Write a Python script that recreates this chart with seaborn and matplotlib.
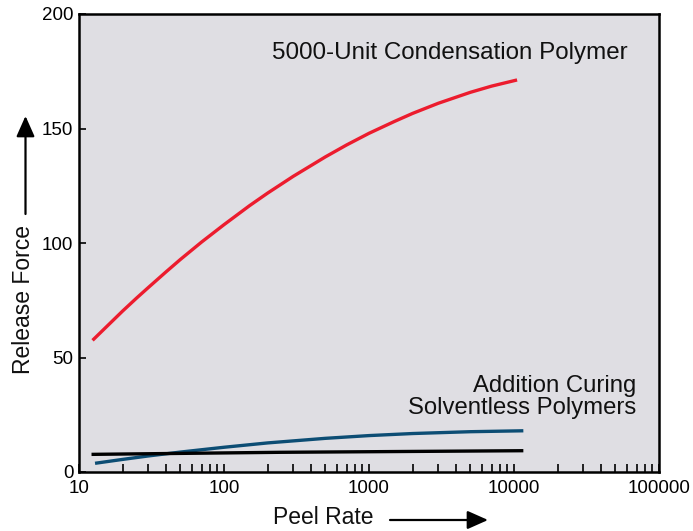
import matplotlib
matplotlib.use("Agg")
import matplotlib.pyplot as plt
from matplotlib.patches import FancyArrowPatch
from matplotlib.ticker import LogLocator, NullFormatter, FixedLocator, FixedFormatter
import seaborn as sns
import pandas as pd

# Release force versus peel rate for three release coatings
condensation_rate = [12.4, 15, 20, 25, 30, 40, 50, 70, 100, 150, 200, 300, 500,
                     700, 1000, 1500, 2000, 3000, 5000, 7000, 10500]
condensation_force = [57.5, 62.6, 70.3, 76.0, 80.5, 87.5, 92.8, 100.4, 108.0, 116.3,
                      121.8, 129.1, 137.6, 142.8, 147.9, 153.1, 156.6, 161.0, 165.8,
                      168.5, 171.2]

addition_blue_rate = [12.9, 20, 30, 50, 100, 200, 500, 1000, 2000, 5000, 11600]
addition_blue_force = [3.8, 5.5, 7.0, 8.7, 10.8, 12.7, 14.7, 15.9, 16.8, 17.6, 18.0]

addition_black_rate = [12.2, 243, 11600]
addition_black_force = [7.7, 8.6, 9.3]

x_ticks = [10, 100, 1000, 10000, 100000]
x_tick_labels = ["10", "100", "1000", "10000", "100000"]
y_ticks = [0, 50, 100, 150, 200]
y_tick_labels = ["0", "50", "100", "150", "200"]

sns.set_theme(style="white")
plt.rcParams["font.family"] = ["Liberation Sans", "DejaVu Sans"]

fig = plt.figure(figsize=(6.93, 5.31), dpi=100)
ax = fig.add_axes([79 / 693, 1 - 472 / 531, (659 - 79) / 693, (472 - 14) / 531])
ax.set_facecolor("#dfdee3")

series = [
    (condensation_rate, condensation_force, "#ec1c2e"),
    (addition_blue_rate, addition_blue_force, "#0c4d74"),
    (addition_black_rate, addition_black_force, "#000000"),
]
for rate, force, color in series:
    df = pd.DataFrame({"rate": rate, "force": force})
    sns.lineplot(data=df, x="rate", y="force", ax=ax, color=color,
                 linewidth=2.4, estimator=None, sort=True,
                 solid_joinstyle="round", solid_capstyle="butt")

ax.set_xscale("log")
ax.set_xlim(10, 100000)
ax.set_ylim(0, 200)

ax.xaxis.set_major_locator(FixedLocator(x_ticks))
ax.xaxis.set_major_formatter(FixedFormatter(x_tick_labels))
ax.xaxis.set_minor_locator(LogLocator(base=10, subs=range(2, 10)))
ax.xaxis.set_minor_formatter(NullFormatter())
ax.yaxis.set_major_locator(FixedLocator(y_ticks))
ax.yaxis.set_major_formatter(FixedFormatter(y_tick_labels))

ax.tick_params(axis="both", which="both", direction="in", width=1.2,
               colors="black", labelsize=13.5, pad=4)
ax.tick_params(axis="x", which="both", length=6, bottom=True, top=False)
ax.tick_params(axis="y", which="major", length=5, left=True, right=False)
ax.tick_params(axis="x", which="major", pad=6)

for side in ["left", "right", "top", "bottom"]:
    ax.spines[side].set_visible(True)
    ax.spines[side].set_color("black")
    ax.spines[side].set_linewidth(1.8)

ax.set_xlabel("")
ax.set_ylabel("")

# Series labels
fig.text(450 / 693, 1 - 53 / 531, "5000-Unit Condensation Polymer",
         ha="center", va="center", fontsize=17.4, color="#111111")
fig.text(636 / 693, 1 - 397 / 531, "Addition Curing\nSolventless Polymers",
         ha="right", va="center", fontsize=17.2, color="#111111",
         multialignment="right", linespacing=1.02)

# Axis titles with direction arrows
fig.text(23 / 693, 1 - 300 / 531, "Release Force", rotation=90,
         ha="center", va="center", fontsize=16.5, color="#111111")
fig.text(323 / 693, 1 - 518 / 531, "Peel Rate",
         ha="center", va="center", fontsize=16.5, color="#111111")

arrow_style = dict(arrowstyle="-|>,head_length=0.9,head_width=0.4",
                   color="black", linewidth=1.6, shrinkA=0, shrinkB=0)
fig.add_artist(FancyArrowPatch(
    (25.5 / 693, 1 - 214 / 531), (25.5 / 693, 1 - 116 / 531),
    transform=fig.transFigure, **arrow_style, mutation_scale=14))
fig.add_artist(FancyArrowPatch(
    (390 / 693, 1 - 520 / 531), (488 / 693, 1 - 520 / 531),
    transform=fig.transFigure, **arrow_style, mutation_scale=14))

fig.savefig("out.png", dpi=100)
